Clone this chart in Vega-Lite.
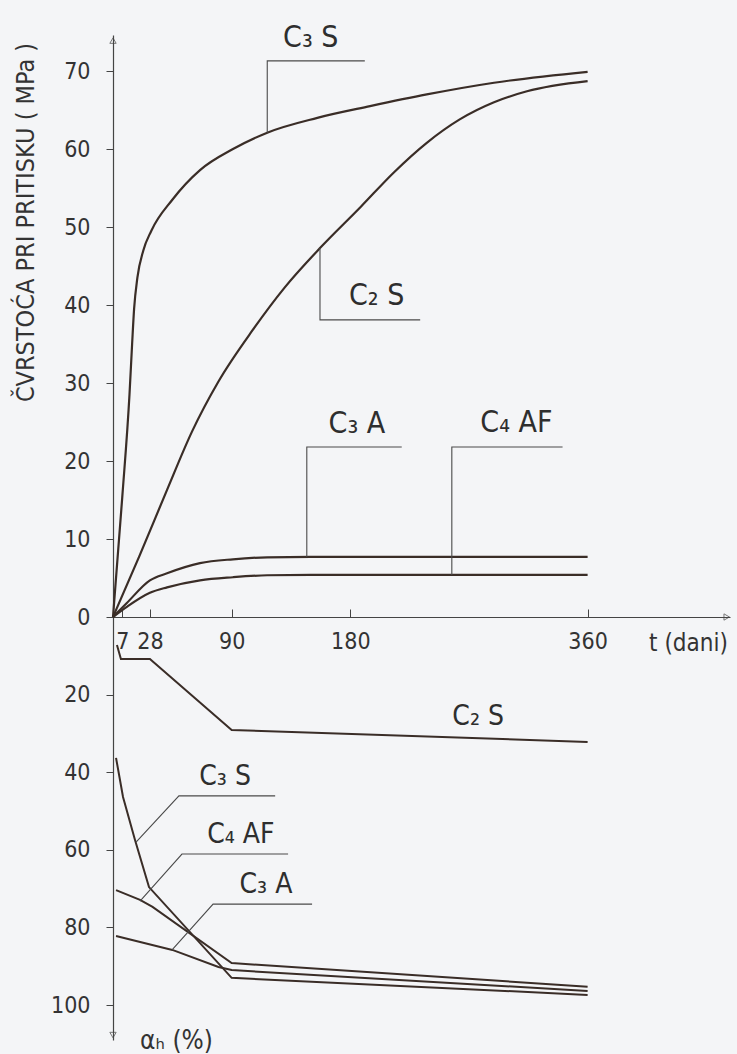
{
  "$schema": "https://vega.github.io/schema/vega-lite/v6.json",
  "width": 617,
  "height": 582,
  "autosize": {"type": "none"},
  "padding": {"left": 113, "top": 35, "right": 7, "bottom": 437},
  "background": "#f4f5f7",
  "config": {
    "view": {"stroke": null},
    "font": "Liberation Sans Narrow, DejaVu Sans Condensed, sans-serif",
    "axis": {"grid": false, "labelFont": "Liberation Sans Narrow, DejaVu Sans Condensed, sans-serif", "titleFont": "Liberation Sans Narrow, DejaVu Sans Condensed, sans-serif"}
  },
  "datasets": {
    "up": [
      {"s": "C3S", "t": 0, "v": 0}, {"s": "C3S", "t": 7, "v": 15.3}, {"s": "C3S", "t": 12.5, "v": 28.5}, {"s": "C3S", "t": 14.5, "v": 35}, {"s": "C3S", "t": 16, "v": 39.5}, {"s": "C3S", "t": 18.5, "v": 43.5}, {"s": "C3S", "t": 23, "v": 47}, {"s": "C3S", "t": 29, "v": 49.5}, {"s": "C3S", "t": 45, "v": 53.5}, {"s": "C3S", "t": 66, "v": 57.3}, {"s": "C3S", "t": 91, "v": 60}, {"s": "C3S", "t": 117, "v": 62.1}, {"s": "C3S", "t": 155, "v": 64}, {"s": "C3S", "t": 195, "v": 65.5}, {"s": "C3S", "t": 238, "v": 67}, {"s": "C3S", "t": 289, "v": 68.5}, {"s": "C3S", "t": 360, "v": 69.9},
      {"s": "C2S", "t": 0, "v": 0}, {"s": "C2S", "t": 20, "v": 7.8}, {"s": "C2S", "t": 41, "v": 16.3}, {"s": "C2S", "t": 60, "v": 23.8}, {"s": "C2S", "t": 80, "v": 30.2}, {"s": "C2S", "t": 106, "v": 36.8}, {"s": "C2S", "t": 130, "v": 42.2}, {"s": "C2S", "t": 157, "v": 47.3}, {"s": "C2S", "t": 188, "v": 52.6}, {"s": "C2S", "t": 213, "v": 57}, {"s": "C2S", "t": 238, "v": 60.8}, {"s": "C2S", "t": 263, "v": 63.8}, {"s": "C2S", "t": 289, "v": 66}, {"s": "C2S", "t": 314, "v": 67.4}, {"s": "C2S", "t": 360, "v": 68.7},
      {"s": "C3A", "t": 0, "v": 0}, {"s": "C3A", "t": 10.5, "v": 1.8}, {"s": "C3A", "t": 28, "v": 4.7}, {"s": "C3A", "t": 41, "v": 5.6}, {"s": "C3A", "t": 66, "v": 6.9}, {"s": "C3A", "t": 91, "v": 7.4}, {"s": "C3A", "t": 117, "v": 7.65}, {"s": "C3A", "t": 150, "v": 7.7}, {"s": "C3A", "t": 360, "v": 7.7},
      {"s": "C4AF", "t": 0, "v": 0}, {"s": "C4AF", "t": 10.5, "v": 1.3}, {"s": "C4AF", "t": 28, "v": 3.1}, {"s": "C4AF", "t": 41, "v": 3.8}, {"s": "C4AF", "t": 66, "v": 4.7}, {"s": "C4AF", "t": 91, "v": 5.1}, {"s": "C4AF", "t": 117, "v": 5.35}, {"s": "C4AF", "t": 150, "v": 5.4}, {"s": "C4AF", "t": 360, "v": 5.4}
    ],
    "upLead": [
      {"id": "C3S", "k": 1, "t": 117, "v": 62.1}, {"id": "C3S", "k": 2, "t": 117, "v": 71.3}, {"id": "C3S", "k": 3, "t": 191, "v": 71.3},
      {"id": "C2S", "k": 1, "t": 157, "v": 47.3}, {"id": "C2S", "k": 2, "t": 157, "v": 38.1}, {"id": "C2S", "k": 3, "t": 233, "v": 38.1},
      {"id": "C3A", "k": 1, "t": 147, "v": 7.7}, {"id": "C3A", "k": 2, "t": 147, "v": 21.8}, {"id": "C3A", "k": 3, "t": 219, "v": 21.8},
      {"id": "C4AF", "k": 1, "t": 257, "v": 5.4}, {"id": "C4AF", "k": 2, "t": 257, "v": 21.8}, {"id": "C4AF", "k": 3, "t": 341, "v": 21.8}
    ],
    "upText": [
      {"label": "C₃ S", "t": 150, "v": 73.1},
      {"label": "C₂ S", "t": 200, "v": 40.0},
      {"label": "C₃ A", "t": 185, "v": 23.6},
      {"label": "C₄ AF", "t": 306, "v": 23.7}
    ],
    "lo": [
      {"s": "C2S", "t": 3, "a": 7.2}, {"s": "C2S", "t": 6, "a": 10.8}, {"s": "C2S", "t": 28, "a": 10.8}, {"s": "C2S", "t": 90, "a": 29.1}, {"s": "C2S", "t": 360, "a": 32.2},
      {"s": "C3S", "t": 2.3, "a": 36.3}, {"s": "C3S", "t": 7.6, "a": 46.4}, {"s": "C3S", "t": 16.7, "a": 57.5}, {"s": "C3S", "t": 27.3, "a": 69.6}, {"s": "C3S", "t": 90, "a": 93.0}, {"s": "C3S", "t": 360, "a": 97.4},
      {"s": "C4AF", "t": 2.3, "a": 70.4}, {"s": "C4AF", "t": 20.5, "a": 72.9}, {"s": "C4AF", "t": 30, "a": 74.7}, {"s": "C4AF", "t": 90, "a": 89.2}, {"s": "C4AF", "t": 360, "a": 95.3},
      {"s": "C3A", "t": 2.3, "a": 82.2}, {"s": "C3A", "t": 45, "a": 85.8}, {"s": "C3A", "t": 80, "a": 90.2}, {"s": "C3A", "t": 90, "a": 91.0}, {"s": "C3A", "t": 360, "a": 96.4}
    ],
    "loLead": [
      {"id": "C3S", "k": 1, "t": 17.5, "a": 58.0}, {"id": "C3S", "k": 2, "t": 50, "a": 46.1}, {"id": "C3S", "k": 3, "t": 123, "a": 46.1},
      {"id": "C4AF", "k": 1, "t": 20.5, "a": 73.2}, {"id": "C4AF", "k": 2, "t": 52.3, "a": 61.1}, {"id": "C4AF", "k": 3, "t": 132.8, "a": 61.1},
      {"id": "C3A", "k": 1, "t": 44.8, "a": 85.8}, {"id": "C3A", "k": 2, "t": 75.9, "a": 74.0}, {"id": "C3A", "k": 3, "t": 151, "a": 74.0}
    ],
    "loText": [
      {"label": "C₂ S", "t": 277, "a": 27.8},
      {"label": "C₃ S", "t": 85, "a": 43.3},
      {"label": "C₄ AF", "t": 97, "a": 58.2},
      {"label": "C₃ A", "t": 116, "a": 71.1}
    ],
    "arrows": [
      {"t": 0, "v": 73.9, "shape": "triangle-up"},
      {"t": 0, "v": -53.6, "shape": "triangle-down"},
      {"t": 465.5, "v": 0, "shape": "triangle-right"}
    ]
  },
  "layer": [
    {
      "data": {"name": "up"},
      "mark": {"type": "line", "interpolate": "monotone", "color": "#3a2d27", "strokeWidth": 2.2},
      "encoding": {
        "x": {"field": "t", "type": "quantitative", "title": "t (dani)", "scale": {"domain": [0, 468], "nice": false, "zero": false},
          "axis": {"orient": "bottom", "values": [7, 28, 90, 180, 360], "tickSize": -8, "tickColor": "#444", "domainColor": "#444", "domainWidth": 1.2, "labelPadding": 21, "labelFontSize": 23, "labelColor": "#333", "labelFlush": false, "labelOverlap": false, "title": "t (dani)", "titleX": 575, "titleY": 26, "titleAlign": "center", "titleBaseline": "middle", "titleFontSize": 24, "titleFontWeight": "normal", "titleColor": "#333"}},
        "y": {"field": "v", "type": "quantitative", "scale": {"domain": [0, 74.62], "nice": false, "zero": false},
          "axis": {"orient": "left", "values": [0, 10, 20, 30, 40, 50, 60, 70], "domainColor": "#444", "domainWidth": 1.2, "tickSize": 7, "tickColor": "#444", "labelFontSize": 23, "labelColor": "#333", "labelPadding": 16, "title": "ČVRSTOĆA PRI PRITISKU ( MPa )", "titleFontSize": 25, "titleFontWeight": "normal", "titleColor": "#333", "titleAngle": 270, "titleAlign": "center", "titleBaseline": "middle", "titleX": -88, "titleY": 187}},
        "detail": {"field": "s", "type": "nominal"}
      }
    },
    {
      "data": {"name": "upLead"},
      "mark": {"type": "line", "color": "#4a4a4a", "strokeWidth": 1.1},
      "encoding": {
        "x": {"field": "t", "type": "quantitative", "title": "t (dani)", "scale": {"domain": [0, 468], "nice": false, "zero": false}},
        "y": {"field": "v", "type": "quantitative", "scale": {"domain": [0, 74.62], "nice": false, "zero": false}, "axis": null},
        "detail": {"field": "id", "type": "nominal"},
        "order": {"field": "k", "type": "quantitative"}
      }
    },
    {
      "data": {"name": "upText"},
      "mark": {"type": "text", "fontSize": 30, "align": "center", "baseline": "alphabetic", "color": "#2e2e2e"},
      "encoding": {
        "x": {"field": "t", "type": "quantitative", "title": "t (dani)", "scale": {"domain": [0, 468], "nice": false, "zero": false}},
        "y": {"field": "v", "type": "quantitative", "scale": {"domain": [0, 74.62], "nice": false, "zero": false}, "axis": null},
        "text": {"field": "label"}
      }
    },
    {
      "data": {"name": "lo"},
      "mark": {"type": "line", "color": "#3a2d27", "strokeWidth": 2},
      "encoding": {
        "x": {"field": "t", "type": "quantitative", "title": "t (dani)", "scale": {"domain": [0, 468], "nice": false, "zero": false}},
        "y": {"field": "a", "type": "quantitative", "scale": {"domain": [0, 109.02], "range": [582, 1005], "nice": false, "zero": false},
          "axis": {"orient": "left", "values": [20, 40, 60, 80, 100], "domain": true, "domainColor": "#444", "domainWidth": 1.2, "tickSize": 7, "tickColor": "#444", "labelFontSize": 23, "labelColor": "#333", "labelPadding": 16, "title": "αₕ (%)", "titleFontSize": 26, "titleFontWeight": "normal", "titleColor": "#333", "titleAngle": 0, "titleAlign": "center", "titleBaseline": "middle", "titleX": 63, "titleY": 1005}},
        "detail": {"field": "s", "type": "nominal"}
      }
    },
    {
      "data": {"name": "loLead"},
      "mark": {"type": "line", "color": "#4a4a4a", "strokeWidth": 1.1},
      "encoding": {
        "x": {"field": "t", "type": "quantitative", "title": "t (dani)", "scale": {"domain": [0, 468], "nice": false, "zero": false}},
        "y": {"field": "a", "type": "quantitative", "scale": {"domain": [0, 109.02], "range": [582, 1005], "nice": false, "zero": false}, "axis": null},
        "detail": {"field": "id", "type": "nominal"},
        "order": {"field": "k", "type": "quantitative"}
      }
    },
    {
      "data": {"name": "loText"},
      "mark": {"type": "text", "fontSize": 28, "align": "center", "baseline": "alphabetic", "color": "#2e2e2e"},
      "encoding": {
        "x": {"field": "t", "type": "quantitative", "title": "t (dani)", "scale": {"domain": [0, 468], "nice": false, "zero": false}},
        "y": {"field": "a", "type": "quantitative", "scale": {"domain": [0, 109.02], "range": [582, 1005], "nice": false, "zero": false}, "axis": null},
        "text": {"field": "label"}
      }
    },
    {
      "data": {"name": "arrows"},
      "mark": {"type": "point", "filled": false, "size": 40, "color": "#444", "strokeWidth": 1},
      "encoding": {
        "x": {"field": "t", "type": "quantitative", "title": "t (dani)", "scale": {"domain": [0, 468], "nice": false, "zero": false}},
        "y": {"field": "v", "type": "quantitative", "scale": {"domain": [0, 74.62], "nice": false, "zero": false}, "axis": null},
        "shape": {"field": "shape", "type": "nominal", "scale": null}
      }
    }
  ],
  "resolve": {"scale": {"y": "independent"}, "axis": {"y": "independent"}}
}
